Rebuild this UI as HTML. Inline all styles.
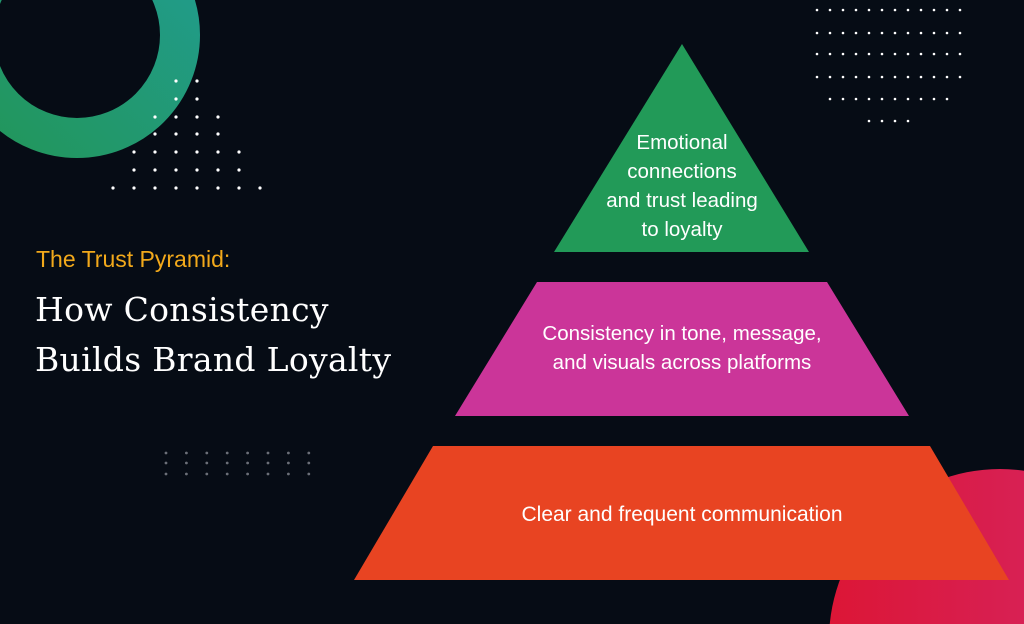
<!DOCTYPE html>
<html><head><meta charset="utf-8"><style>
html,body{margin:0;padding:0;background:#060c15;width:1024px;height:624px;overflow:hidden;}
#c{position:relative;width:1024px;height:624px;overflow:hidden;background:#060c15;font-family:"Liberation Sans",sans-serif;}
.t{position:absolute;color:#fff;text-align:center;}
svg{display:block;}
</style></head><body><div id="c">
<svg width="1024" height="624" style="position:absolute;left:0;top:0">
<defs>
<linearGradient id="g1" x1="0" y1="1" x2="1" y2="0"><stop offset="0" stop-color="#22965a"/><stop offset="1" stop-color="#219c8e"/></linearGradient>
<linearGradient id="g2" x1="0" y1="0" x2="1" y2="0"><stop offset="0" stop-color="#dc1636"/><stop offset="1" stop-color="#d4286a"/></linearGradient>
</defs>
<circle cx="77" cy="35" r="103" fill="none" stroke="url(#g1)" stroke-width="40"/>
<circle cx="1000" cy="640" r="171" fill="url(#g2)"/>
<g fill="#fff">
<circle cx="176" cy="81" r="1.6"/><circle cx="197" cy="81" r="1.6"/>
<circle cx="176" cy="99" r="1.6"/><circle cx="197" cy="99" r="1.6"/>
<circle cx="155" cy="117" r="1.6"/><circle cx="176" cy="117" r="1.6"/><circle cx="197" cy="117" r="1.6"/><circle cx="218" cy="117" r="1.6"/>
<circle cx="155" cy="134" r="1.6"/><circle cx="176" cy="134" r="1.6"/><circle cx="197" cy="134" r="1.6"/><circle cx="218" cy="134" r="1.6"/>
<circle cx="134" cy="152" r="1.6"/><circle cx="155" cy="152" r="1.6"/><circle cx="176" cy="152" r="1.6"/><circle cx="197" cy="152" r="1.6"/><circle cx="218" cy="152" r="1.6"/><circle cx="239" cy="152" r="1.6"/>
<circle cx="134" cy="170" r="1.6"/><circle cx="155" cy="170" r="1.6"/><circle cx="176" cy="170" r="1.6"/><circle cx="197" cy="170" r="1.6"/><circle cx="218" cy="170" r="1.6"/><circle cx="239" cy="170" r="1.6"/>
<circle cx="113" cy="188" r="1.6"/><circle cx="134" cy="188" r="1.6"/><circle cx="155" cy="188" r="1.6"/><circle cx="176" cy="188" r="1.6"/><circle cx="197" cy="188" r="1.6"/><circle cx="218" cy="188" r="1.6"/><circle cx="239" cy="188" r="1.6"/><circle cx="260" cy="188" r="1.6"/>
</g>
<g fill="#fff" id="tr"></g>
<g fill="#6b6f78" id="gr"></g>
<polygon points="682,44 809,252 554,252" fill="#229a58"/>
<polygon points="537,282 827,282 909,416 455,416" fill="#cb3599"/>
<polygon points="433,446 930,446 1009,580 354,580" fill="#e84422"/>
</svg>
<script>
var ns="http://www.w3.org/2000/svg";
function d(g,x,y,r){var c=document.createElementNS(ns,"circle");c.setAttribute("cx",x);c.setAttribute("cy",y);c.setAttribute("r",r);document.getElementById(g).appendChild(c);}
var rows=[[10,0,12],[33,0,12],[54,0,12],[77,0,12],[99,1,10],[121,4,4]];
rows.forEach(function(r){for(var i=0;i<r[2];i++)d("tr",817+13*(r[1]+i),r[0],1.3);});
[453,463,474].forEach(function(y){for(var i=0;i<8;i++)d("gr",166+20.4*i,y,1.4);});
</script>
<div style="position:absolute;left:36px;top:246px;color:#f2a91b;font-size:23px;white-space:nowrap;">The Trust Pyramid:</div>
<div style="position:absolute;left:35px;top:285px;color:#fff;font-family:'DejaVu Serif',serif;font-size:33px;line-height:50px;letter-spacing:0.3px;white-space:nowrap;">How Consistency<br>Builds Brand Loyalty</div>
<div class="t" style="left:562px;top:128px;width:240px;font-size:20.5px;line-height:29px;white-space:nowrap;">Emotional<br>connections<br>and trust leading<br>to loyalty</div>
<div class="t" style="left:482px;top:319px;width:400px;font-size:20.5px;line-height:29px;white-space:nowrap;">Consistency in tone, message,<br>and visuals across platforms</div>
<div class="t" style="left:432px;top:500px;width:500px;font-size:21px;line-height:29px;white-space:nowrap;">Clear and frequent communication</div>
</div></body></html>
